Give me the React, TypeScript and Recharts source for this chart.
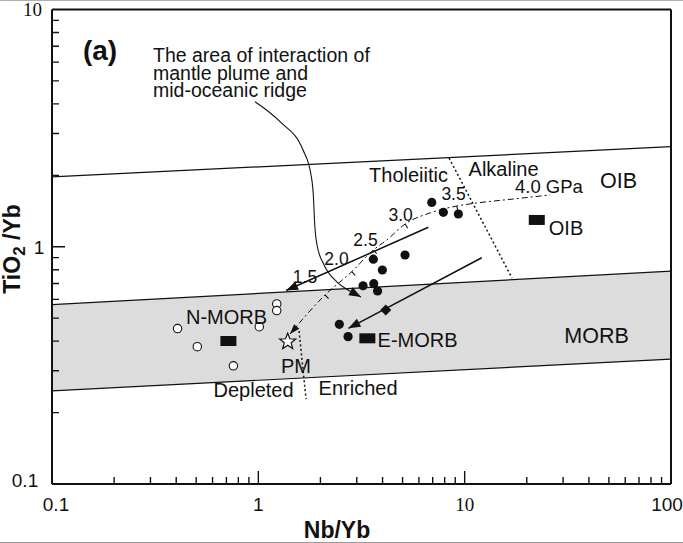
import React from "react";
import { ComposedChart, XAxis, YAxis, Line, Scatter, Area } from "recharts";

// ---------- axis ticks ----------
const xTicks = [0.1, 0.2, 0.3, 0.4, 0.5, 0.6, 0.7, 0.8, 0.9, 1, 2, 3, 4, 5, 6, 7, 8, 9, 10, 20, 30, 40, 50, 60, 70, 80, 90, 100];
const yTicks = [0.1, 0.2, 0.3, 0.4, 0.5, 0.6, 0.7, 0.8, 0.9, 1, 2, 3, 4, 5, 6, 7, 8, 9, 10];
const xMajor = [0.1, 1, 10, 100];
const xMajorLabels = ["0.1", "1", "10", "100"];
const yMajor = [0.1, 1, 10];
const yMajorLabels = ["0.1", "1", "10"];

// ---------- field boundaries ----------
const oibUpperLine = [{ x: 0.1, y: 1.97 }, { x: 100, y: 2.64 }];
const morbUpperLine = [{ x: 0.1, y: 0.57 }, { x: 100, y: 0.79 }];
const morbLowerLine = [{ x: 0.1, y: 0.247 }, { x: 100, y: 0.336 }];
const morbBand = [{ x: 0.1, band: [0.247, 0.57] }, { x: 100, band: [0.336, 0.79] }];
const tholAlkLine = [{ x: 8.4, y: 2.366 }, { x: 16.97, y: 0.738 }];
const deplEnrLine = [{ x: 1.575, y: 0.4415 }, { x: 1.703, y: 0.228 }];

// melting curve (pressure ticks flagged by p)
const meltCurve = [
  { x: 1.424, y: 0.429 },
  { x: 2.105, y: 0.626, p: "1.5" },
  { x: 2.836, y: 0.785, p: "2.0" },
  { x: 3.609, y: 0.969, p: "2.5" },
  { x: 4.194, y: 1.068 },
  { x: 5.141, y: 1.247, p: "3.0" },
  { x: 6.797, y: 1.388 },
  { x: 9.156, y: 1.485, p: "3.5" },
  { x: 11.45, y: 1.529 },
  { x: 17.16, y: 1.589 },
  { x: 25.94, y: 1.653 },
];

// arrows
const arrowNMorb = [{ x: 1.363, y: 0.654 }, { x: 6.668, y: 1.208 }];
const arrowEMorb = [{ x: 2.732, y: 0.453 }, { x: 12.1, y: 0.899 }];
const interactionArrow = [
  { x: 0.964, y: 4.087 },
  { x: 1.274, y: 3.366 },
  { x: 1.647, y: 2.557 },
  { x: 1.801, y: 2.006 },
  { x: 1.853, y: 1.574 },
  { x: 1.871, y: 1.297 },
  { x: 1.925, y: 1.017 },
  { x: 2.083, y: 0.838 },
  { x: 2.407, y: 0.71 },
  { x: 2.722, y: 0.657 },
  { x: 3.147, y: 0.614 },
];

// ---------- samples ----------
const filledSamples = [
  { x: 6.927, y: 1.537 }, { x: 7.883, y: 1.397 }, { x: 9.322, y: 1.374 },
  { x: 3.609, y: 0.886 }, { x: 5.141, y: 0.923 }, { x: 3.992, y: 0.798 },
  { x: 3.218, y: 0.685 }, { x: 3.626, y: 0.699 }, { x: 3.783, y: 0.651 },
  { x: 2.47, y: 0.471 }, { x: 2.722, y: 0.418 },
];
const openSamples = [
  { x: 0.406, y: 0.452 }, { x: 0.506, y: 0.379 }, { x: 0.757, y: 0.315 },
  { x: 1.011, y: 0.46 }, { x: 1.228, y: 0.574 }, { x: 1.228, y: 0.5385 },
];
const referenceRects = [{ x: 0.716, y: 0.4006 }, { x: 3.376, y: 0.4112 }, { x: 22.36, y: 1.297 }];
const pmStar = [{ x: 1.388, y: 0.398 }];
const diamondPoint = [{ x: 4.146, y: 0.541 }];

// ---------- annotations ----------
const regularLabels = [
  { x: 5.347, y: 2.006, label: "Tholeiitic" },
  { x: 15.44, y: 2.117, label: "Alkaline" },
  { x: 31.0, y: 1.2, label: "OIB" },
  { x: 5.913, y: 0.4046, label: "E-MORB" },
  { x: 0.7012, y: 0.508, label: "N-MORB" },
  { x: 1.523, y: 0.3129, label: "PM" },
  { x: 0.948, y: 0.2478, label: "Depleted" },
  { x: 3.043, y: 0.255, label: "Enriched" },
];
const fieldLabels = [
  { x: 55.7, y: 1.893, label: "OIB" },
  { x: 43.6, y: 0.4206, label: "MORB" },
];
const gpaLabel = [{ x: 25.6, y: 1.8, label: "4.0 GPa" }];
const pressureLabels = [
  { x: 1.684, y: 0.742, label: "1.5" },
  { x: 2.393, y: 0.884, label: "2.0" },
  { x: 3.308, y: 1.068, label: "2.5" },
  { x: 4.891, y: 1.361, label: "3.0" },
  { x: 8.835, y: 1.669, label: "3.5" },
];
const panelLabel = [{ x: 0.1413, y: 6.12, label: "(a)" }];
const noteLines = [
  { x: 0.3087, y: 6.005, label: "The area of interaction of" },
  { x: 0.3087, y: 5.059, label: "mantle plume and" },
  { x: 0.3087, y: 4.262, label: "mid-oceanic ridge" },
];

// ---------- inward tick combs along the frame (built from the tick arrays) ----------
// tick lengths expressed as fractions of a decade (13 px major, 7 px minor)
const X_DECADE_PX = 206.3;
const Y_DECADE_PX = 237.25;
const xComb: { x: number; y: number }[] = [];
xTicks.forEach((v) => {
  const len = xMajor.includes(v) ? 13 : 7;
  xComb.push({ x: v, y: 0.1 });
  if (v > 0.1 && v < 100) {
    xComb.push({ x: v, y: 0.1 * Math.pow(10, len / Y_DECADE_PX) });
    xComb.push({ x: v, y: 0.1 });
  }
});
const yComb: { x: number; y: number }[] = [];
yTicks.forEach((v) => {
  const len = yMajor.includes(v) ? 13 : 7;
  yComb.push({ x: 0.1, y: v });
  if (v > 0.1 && v < 10) {
    yComb.push({ x: 0.1 * Math.pow(10, len / X_DECADE_PX), y: v });
    yComb.push({ x: 0.1, y: v });
  }
});

// ---------- rendering helpers ----------
const FONT = "'Liberation Sans', Arial, Helvetica, sans-serif";
const SERIF = "'Liberation Serif', 'DejaVu Serif', serif";
const INK = "#111";

const XTick = (props: any) => {
  const { x, y, payload } = props;
  const idx = xMajor.indexOf(payload.value);
  if (idx < 0) return <g />;
  const dx = [4, 0, 0, -4][idx] ?? 0;
  return (
    <text x={x + dx} y={y + 27} textAnchor="middle" fontSize={19} fill={INK}
      fontFamily={xMajorLabels[idx] === "10" ? SERIF : FONT}>
      {xMajorLabels[idx]}
    </text>
  );
};

const YTick = (props: any) => {
  const { x, y, payload } = props;
  const idx = yMajor.indexOf(payload.value);
  if (idx < 0) return <g />;
  const cx = [-27, -13, -19.5][idx] ?? 0;
  const dy = [3, 7.5, 6][idx] ?? 0;
  return (
    <text x={x + cx} y={y + dy} textAnchor="middle" fontSize={19} fill={INK}
      fontFamily={yMajorLabels[idx] === "10" ? SERIF : FONT}>
      {yMajorLabels[idx]}
    </text>
  );
};

const arrowHead = (tipX: number, tipY: number, fromX: number, fromY: number, key: string, len = 12, half = 4.5) => {
  const a = Math.atan2(tipY - fromY, tipX - fromX);
  const bx = tipX - len * Math.cos(a);
  const by = tipY - len * Math.sin(a);
  const px = -Math.sin(a) * half;
  const py = Math.cos(a) * half;
  return (
    <polygon key={key} points={`${tipX},${tipY} ${bx + px},${by + py} ${bx - px},${by - py}`} fill={INK} stroke="none" />
  );
};

const makeArrowDot = (at: "first" | "last", tag: string) => (props: any) => {
  const { cx, cy, index, points } = props;
  const key = `${tag}-${index}`;
  if (!points || points.length < 2) return <g key={key} />;
  const n = points.length;
  if (at === "first" && index === 0) return arrowHead(cx, cy, points[1].x, points[1].y, key);
  if (at === "last" && index === n - 1) return arrowHead(cx, cy, points[n - 2].x, points[n - 2].y, key);
  return <g key={key} />;
};

const meltDot = (props: any) => {
  const { cx, cy, index, points, payload } = props;
  const key = `melt-${index}`;
  if (!points) return <g key={key} />;
  if (index === 0) return arrowHead(cx, cy, points[1].x, points[1].y, key, 10, 3.5);
  if (payload && payload.p) {
    const a = points[Math.max(0, index - 1)];
    const b = points[Math.min(points.length - 1, index + 1)];
    let tx = b.x - a.x;
    let ty = b.y - a.y;
    const l = Math.hypot(tx, ty) || 1;
    tx /= l; ty /= l;
    let nx = -ty, ny = tx;
    if (ny < 0) { nx = -nx; ny = -ny; }
    const w = 0.55;
    const ex = cx + nx * 5, ey = cy + ny * 5;
    return (
      <polygon key={key} fill={INK}
        points={`${cx + tx * w},${cy + ty * w} ${ex + tx * w},${ey + ty * w} ${ex - tx * w},${ey - ty * w} ${cx - tx * w},${cy - ty * w}`} />
    );
  }
  return <g key={key} />;
};

const textShape = (size: number, extra: any = {}) => (props: any) => {
  const { cx, cy, payload } = props;
  return (
    <text x={cx} y={cy} textAnchor="middle" dominantBaseline="central" fontSize={size} fontFamily={FONT} fill={INK} {...extra}>
      {payload.label}
    </text>
  );
};

const startTextShape = (size: number, extra: any = {}) => (props: any) => {
  const { cx, cy, payload } = props;
  return (
    <text x={cx} y={cy} fontSize={size} fontFamily={FONT} fill={INK} {...extra}>{payload.label}</text>
  );
};

const openCircle = (props: any) => (
  <circle cx={props.cx} cy={props.cy} r={4.2} fill="#fff" stroke={INK} strokeWidth={1.1} />
);
const filledCircle = (props: any) => (
  <circle cx={props.cx} cy={props.cy} r={4.6} fill={INK} stroke="none" />
);
const rectShape = (props: any) => (
  <rect x={props.cx - 8} y={props.cy - 5} width={16} height={10} fill={INK} />
);
const diamondShape = (props: any) => {
  const { cx, cy } = props;
  const r = 5.5;
  return <polygon points={`${cx},${cy - r} ${cx + r},${cy} ${cx},${cy + r} ${cx - r},${cy}`} fill={INK} />;
};
const starShape = (props: any) => {
  const { cx, cy } = props;
  const pts: string[] = [];
  for (let i = 0; i < 10; i++) {
    const r = i % 2 === 0 ? 8.5 : 3.6;
    const a = -Math.PI / 2 + (i * Math.PI) / 5;
    pts.push(`${cx + r * Math.cos(a)},${cy + r * Math.sin(a)}`);
  }
  return <polygon points={pts.join(" ")} fill="#fff" stroke={INK} strokeWidth={1.2} />;
};

const XTitle = () => (
  <text x={337} y={538} textAnchor="middle" fontSize={23} fontWeight="bold" fontFamily={FONT} fill={INK}>
    Nb/Yb
  </text>
);
const YTitle = () => (
  <text transform="translate(20,249) rotate(-90)" textAnchor="middle" fontSize={23} fontWeight="bold" fontFamily={FONT} fill={INK}>
    TiO<tspan dy={5} fontSize={17}>2</tspan><tspan dy={-5}> /Yb</tspan>
  </text>
);

export default function App() {
  return (
    <div style={{ position: "absolute", left: 0, top: 0, width: 683, height: 543, background: "#fff", overflow: "hidden" }}>
      <div style={{ position: "absolute", left: 0, top: 0, width: 683, height: 1, background: "#b0b0b0" }} />
      <div style={{ position: "absolute", left: 0, top: 542, width: 683, height: 1, background: "#9a9a9a" }} />
      <ComposedChart width={683} height={543} margin={{ top: 8.5, right: 11, bottom: 29, left: 22 }}>
        <Area data={morbBand} dataKey="band" type="linear" fill="#dcdcdc" fillOpacity={1} stroke="none" isAnimationActive={false} />
        <Line data={oibUpperLine} dataKey="y" type="linear" stroke={INK} strokeWidth={1.2} dot={false} isAnimationActive={false} />
        <Line data={morbUpperLine} dataKey="y" type="linear" stroke={INK} strokeWidth={1.2} dot={false} isAnimationActive={false} />
        <Line data={morbLowerLine} dataKey="y" type="linear" stroke={INK} strokeWidth={1.2} dot={false} isAnimationActive={false} />
        <Line data={tholAlkLine} dataKey="y" type="linear" stroke={INK} strokeWidth={1.5} strokeDasharray="2 2.5" dot={false} isAnimationActive={false} />
        <Line data={deplEnrLine} dataKey="y" type="linear" stroke={INK} strokeWidth={1.5} strokeDasharray="2 2.5" dot={false} isAnimationActive={false} />
        <Line data={meltCurve} dataKey="y" type="monotoneX" stroke={INK} strokeWidth={1} strokeDasharray="6 3 2 3" dot={meltDot} isAnimationActive={false} />
        <Line data={arrowNMorb} dataKey="y" type="linear" stroke={INK} strokeWidth={1.5} dot={makeArrowDot("first", "an")} isAnimationActive={false} />
        <Line data={arrowEMorb} dataKey="y" type="linear" stroke={INK} strokeWidth={1.5} dot={makeArrowDot("first", "ae")} isAnimationActive={false} />
        <Line data={interactionArrow} dataKey="y" type="monotoneX" stroke={INK} strokeWidth={1.1} dot={makeArrowDot("last", "ia")} isAnimationActive={false} />

        <Line data={xComb} dataKey="y" type="linear" stroke={INK} strokeWidth={1.4} dot={false} isAnimationActive={false} />
        <Line data={yComb} dataKey="y" type="linear" stroke={INK} strokeWidth={1.4} dot={false} isAnimationActive={false} />

        <Scatter data={openSamples} dataKey="y" shape={openCircle} isAnimationActive={false} />
        <Scatter data={filledSamples} dataKey="y" shape={filledCircle} isAnimationActive={false} />
        <Scatter data={referenceRects} dataKey="y" shape={rectShape} isAnimationActive={false} />
        <Scatter data={diamondPoint} dataKey="y" shape={diamondShape} isAnimationActive={false} />
        <Scatter data={pmStar} dataKey="y" shape={starShape} isAnimationActive={false} />

        <Scatter data={regularLabels} dataKey="y" shape={textShape(20)} isAnimationActive={false} />
        <Scatter data={fieldLabels} dataKey="y" shape={textShape(21.5)} isAnimationActive={false} />
        <Scatter data={gpaLabel} dataKey="y" shape={textShape(18.5)} isAnimationActive={false} />
        <Scatter data={pressureLabels} dataKey="y" shape={textShape(17.5)} isAnimationActive={false} />
        <Scatter data={panelLabel} dataKey="y" shape={startTextShape(28, { fontWeight: "bold" })} isAnimationActive={false} />
        <Scatter data={noteLines} dataKey="y" shape={startTextShape(19.5)} isAnimationActive={false} />

        <XAxis type="number" dataKey="x" scale="log" domain={[0.1, 100]} allowDataOverflow ticks={xTicks} interval={0}
          tick={XTick} tickLine={false} tickSize={0} tickMargin={0} height={30} minTickGap={-100}
          axisLine={{ stroke: INK, strokeWidth: 2 }} label={XTitle} />
        <YAxis type="number" dataKey="y" scale="log" domain={[0.1, 10]} allowDataOverflow ticks={yTicks} interval={0}
          tick={YTick} tickLine={false} tickSize={0} tickMargin={0} width={30} minTickGap={-100}
          axisLine={{ stroke: INK, strokeWidth: 2 }} label={YTitle} />
        <XAxis xAxisId="top" orientation="top" type="number" scale="log" domain={[0.1, 100]} allowDataOverflow
          tick={false} tickLine={false} height={1} axisLine={{ stroke: INK, strokeWidth: 2 }} />
        <YAxis yAxisId="right" orientation="right" type="number" scale="log" domain={[0.1, 10]} allowDataOverflow
          tick={false} tickLine={false} width={1} axisLine={{ stroke: INK, strokeWidth: 2 }} />
      </ComposedChart>
    </div>
  );
}
